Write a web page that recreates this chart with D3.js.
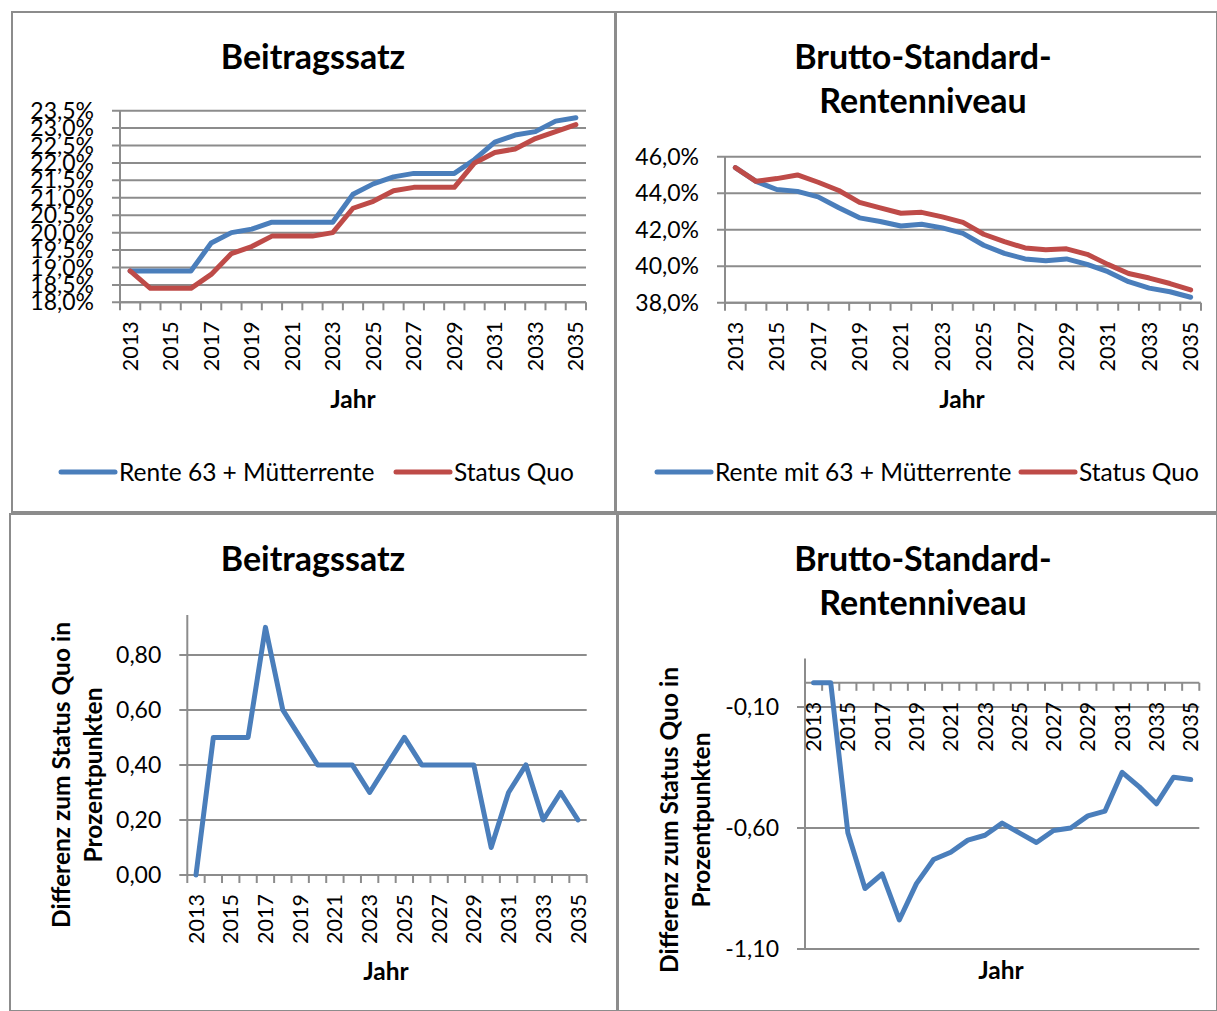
<!DOCTYPE html>
<html>
<head>
<meta charset="utf-8">
<script src="https://cdn.jsdelivr.net/npm/d3@7"></script>
<style>
  body { margin: 0; background: #fff; }
  svg { font-family: Lato, "Open Sans", sans-serif; }
  .tick-label { font-size: 23px; fill: #000; }
  .year-label { font-size: 21.5px; fill: #000; }
  .title { font-size: 34px; font-weight: bold; text-anchor: middle; }
  .axis-title { font-size: 24.5px; font-weight: bold; text-anchor: middle; }
  .legend-text { font-size: 24.5px; }
</style>
</head>
<body>
<svg id="chart" width="1217" height="1011"></svg>
<script>
"use strict";

// ---------------------------------------------------------------
// data
const years = [2013, 2014, 2015, 2016, 2017, 2018, 2019, 2020, 2021, 2022, 2023, 2024,
               2025, 2026, 2027, 2028, 2029, 2030, 2031, 2032, 2033, 2034, 2035];

// Beitragssatz in %
const beitragRente63   = [18.9, 18.9, 18.9, 18.9, 19.7, 20.0, 20.1, 20.3, 20.3, 20.3, 20.3, 21.1,
                          21.4, 21.6, 21.7, 21.7, 21.7, 22.1, 22.6, 22.8, 22.9, 23.2, 23.3];
const beitragStatusQuo = [18.9, 18.4, 18.4, 18.4, 18.8, 19.4, 19.6, 19.9, 19.9, 19.9, 20.0, 20.7,
                          20.9, 21.2, 21.3, 21.3, 21.3, 22.0, 22.3, 22.4, 22.7, 22.9, 23.1];

// Brutto-Standard-Rentenniveau in %
const niveauRente63   = [45.4, 44.65, 44.2, 44.1, 43.8, 43.2, 42.65, 42.45, 42.2, 42.3, 42.1, 41.8,
                         41.15, 40.7, 40.4, 40.3, 40.4, 40.1, 39.7, 39.15, 38.8, 38.6, 38.3];
const niveauStatusQuo = [45.4, 44.65, 44.8, 45.0, 44.6, 44.15, 43.5, 43.2, 42.9, 42.95, 42.7, 42.4,
                         41.75, 41.35, 41.0, 40.9, 40.95, 40.65, 40.1, 39.6, 39.35, 39.05, 38.7];

// Differenz zum Status Quo in Prozentpunkten
const diffBeitrag = [0.0, 0.5, 0.5, 0.5, 0.9, 0.6, 0.5, 0.4, 0.4, 0.4, 0.3, 0.4,
                     0.5, 0.4, 0.4, 0.4, 0.4, 0.1, 0.3, 0.4, 0.2, 0.3, 0.2];
const diffNiveau  = [0.0, 0.0, -0.62, -0.85, -0.79, -0.98, -0.83, -0.73, -0.70, -0.65, -0.63, -0.58,
                     -0.62, -0.66, -0.61, -0.60, -0.55, -0.53, -0.37, -0.43, -0.50, -0.39, -0.40];

// axis ticks
const beitragTicks  = [18.0, 18.5, 19.0, 19.5, 20.0, 20.5, 21.0, 21.5, 22.0, 22.5, 23.0, 23.5];
const niveauTicks   = [38, 40, 42, 44, 46];
const diffBTicks    = [0, 0.2, 0.4, 0.6, 0.8];
const diffNTicks    = [-1.1, -0.6, -0.1];
const yearLabels    = years.filter((d, i) => i % 2 === 0);

const seriesNames = ["Rente 63 + Mütterrente", "Rente mit 63 + Mütterrente", "Status Quo"];

// ---------------------------------------------------------------
const BLUE = "#4a7ebb";
const RED = "#be4b48";
const GRID = "#8c8c8c";

const de = d3.formatLocale({decimal: ",", thousands: ".", grouping: [3], currency: ["", " €"], minus: "-"});
const fmtPct = v => de.format(".1f")(v) + "%";
const fmt2 = de.format(".2f");

const svg = d3.select("#chart");

// panel frames
const frames = [
  {x: 12, y: 12, w: 603, h: 500},
  {x: 616, y: 12, w: 601, h: 500},
  {x: 10, y: 514, w: 607, h: 497},
  {x: 618, y: 514, w: 599, h: 497}
];
svg.selectAll("rect.frame")
  .data(frames)
  .enter().append("rect")
  .attr("class", "frame")
  .attr("x", d => d.x).attr("y", d => d.y)
  .attr("width", d => d.w).attr("height", d => d.h)
  .attr("fill", "none").attr("stroke", GRID).attr("stroke-width", 2);

function drawPanel(p) {
  const g = svg.append("g");

  const x = d3.scaleBand().domain(years).range([p.x0, p.x1]).padding(0);
  const y = d3.scaleLinear().domain(p.domain).range([p.yBottom, p.yTop]);
  const xAxisY = p.axisAt !== undefined ? y(p.axisAt) : p.yBottom;

  // title
  p.title.forEach((t, i) => {
    g.append("text").attr("class", "title")
      .attr("x", p.titleX).attr("y", p.titleY + i * 44)
      .text(t);
  });

  // gridlines + y tick marks
  g.selectAll(".grid").data(p.ticks).enter().append("line")
    .attr("x1", p.x0 - 8).attr("x2", p.x1)
    .attr("y1", d => y(d)).attr("y2", d => y(d))
    .attr("stroke", GRID).attr("stroke-width", 2);

  // y tick labels
  g.selectAll(".ylab").data(p.ticks).enter().append("text")
    .attr("class", "tick-label")
    .attr("x", p.x0 - 26).attr("y", d => y(d))
    .attr("dy", "0.35em").attr("text-anchor", "end")
    .text(p.format);

  // y axis line
  g.append("line")
    .attr("x1", p.x0).attr("x2", p.x0)
    .attr("y1", p.yTop).attr("y2", p.yBottom)
    .attr("stroke", GRID).attr("stroke-width", 2);

  // x axis line with tick marks between the categories
  g.append("line")
    .attr("x1", p.x0).attr("x2", p.x1)
    .attr("y1", xAxisY).attr("y2", xAxisY)
    .attr("stroke", GRID).attr("stroke-width", 2);
  const edges = years.map(d => x(d)).concat([p.x1]);
  g.selectAll(".xtick").data(edges).enter().append("line")
    .attr("x1", d => d).attr("x2", d => d)
    .attr("y1", xAxisY).attr("y2", xAxisY + 8)
    .attr("stroke", GRID).attr("stroke-width", 2);

  // year labels (every second year), rotated
  g.selectAll(".xlab").data(yearLabels).enter().append("text")
    .attr("class", "year-label")
    .attr("transform", d => `translate(${x(d) + x.bandwidth() / 2},${xAxisY + 19}) rotate(-90)`)
    .attr("dy", "0.35em").attr("text-anchor", "end")
    .text(d => d);

  // axis titles
  g.append("text").attr("class", "axis-title")
    .attr("x", p.jahrX).attr("y", p.jahrY).text("Jahr");
  if (p.yTitle) {
    p.yTitle.forEach((t, i) => {
      g.append("text").attr("class", "axis-title")
        .attr("transform", `translate(${p.yTitleX + i * 32},${p.yTitleY}) rotate(-90)`)
        .text(t);
    });
  }

  // lines
  const line = d3.line()
    .x((d, i) => x(years[i]) + x.bandwidth() / 2)
    .y(d => y(d));
  p.series.forEach(s => {
    g.append("path").datum(s.values)
      .attr("d", line)
      .attr("fill", "none").attr("stroke", s.color)
      .attr("stroke-width", 5)
      .attr("stroke-linejoin", "round").attr("stroke-linecap", "round");
  });

  // legend
  if (p.legend) {
    p.legend.forEach(l => {
      g.append("line")
        .attr("x1", l.x).attr("x2", l.x + 54)
        .attr("y1", p.legendY).attr("y2", p.legendY)
        .attr("stroke", l.color).attr("stroke-width", 5).attr("stroke-linecap", "round");
      g.append("text").attr("class", "legend-text")
        .attr("x", l.x + 58).attr("y", p.legendY).attr("dy", "0.35em")
        .text(l.name);
    });
  }
}

// top left: Beitragssatz
drawPanel({
  title: ["Beitragssatz"], titleX: 313, titleY: 69,
  x0: 120, x1: 586, yTop: 110.7, yBottom: 302.3,
  domain: [18, 23.5], ticks: beitragTicks, format: fmtPct,
  jahrX: 353, jahrY: 408,
  series: [{values: beitragRente63, color: BLUE}, {values: beitragStatusQuo, color: RED}],
  legendY: 472,
  legend: [{x: 61, color: BLUE, name: seriesNames[0]}, {x: 396, color: RED, name: seriesNames[2]}]
});

// top right: Rentenniveau
drawPanel({
  title: ["Brutto-Standard-", "Rentenniveau"], titleX: 923, titleY: 69,
  x0: 725, x1: 1201, yTop: 156.7, yBottom: 302.7,
  domain: [38, 46], ticks: niveauTicks, format: fmtPct,
  jahrX: 962, jahrY: 408,
  series: [{values: niveauRente63, color: BLUE}, {values: niveauStatusQuo, color: RED}],
  legendY: 472,
  legend: [{x: 657, color: BLUE, name: seriesNames[1]}, {x: 1021, color: RED, name: seriesNames[2]}]
});

// bottom left: difference Beitragssatz
drawPanel({
  title: ["Beitragssatz"], titleX: 313, titleY: 571,
  x0: 187.3, x1: 586.7, yTop: 615, yBottom: 875,
  domain: [0, 0.945], ticks: diffBTicks, format: fmt2,
  jahrX: 386, jahrY: 980,
  yTitle: ["Differenz zum Status Quo in", "Prozentpunkten"], yTitleX: 70, yTitleY: 775,
  series: [{values: diffBeitrag, color: BLUE}]
});

// bottom right: difference Rentenniveau
drawPanel({
  title: ["Brutto-Standard-", "Rentenniveau"], titleX: 923, titleY: 571,
  x0: 805, x1: 1199.3, yTop: 658.6, yBottom: 949,
  domain: [-1.1, 0.1], axisAt: 0, ticks: diffNTicks, format: fmt2,
  jahrX: 1001, jahrY: 979,
  yTitle: ["Differenz zum Status Quo in", "Prozentpunkten"], yTitleX: 678, yTitleY: 820,
  series: [{values: diffNiveau, color: BLUE}]
});
</script>
</body>
</html>
